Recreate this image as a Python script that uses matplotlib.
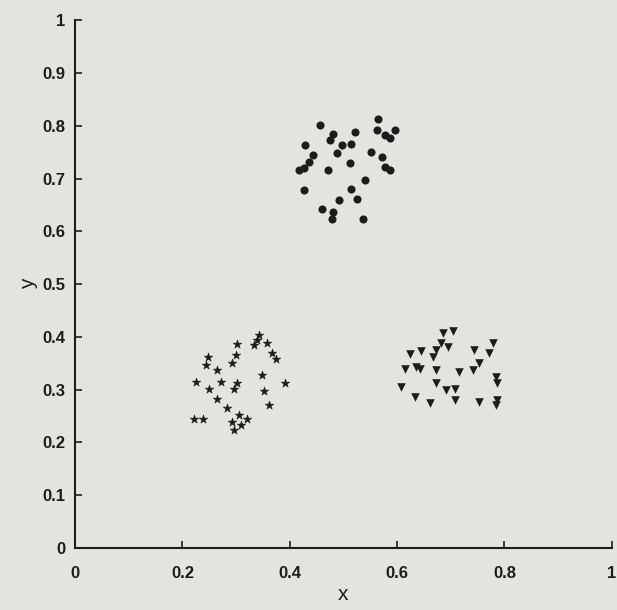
import numpy as np
import matplotlib
matplotlib.use('Agg')
import matplotlib.pyplot as plt

# ===== data =====
# upper cluster (dots)
circ_x = [0.457, 0.481, 0.475, 0.522, 0.515, 0.565, 0.562, 0.577, 0.596, 0.586,
          0.429, 0.497, 0.488, 0.552, 0.444, 0.435, 0.417, 0.426, 0.512, 0.472,
          0.571, 0.577, 0.586, 0.540, 0.426, 0.515, 0.525, 0.491, 0.460, 0.481,
          0.478, 0.537]
circ_y = [0.801, 0.785, 0.773, 0.788, 0.766, 0.814, 0.792, 0.782, 0.792, 0.777,
          0.763, 0.763, 0.748, 0.751, 0.744, 0.732, 0.716, 0.720, 0.729, 0.716,
          0.742, 0.722, 0.716, 0.697, 0.679, 0.681, 0.662, 0.659, 0.643, 0.637,
          0.624, 0.624]

# lower-left cluster (stars)
star_x = [0.343, 0.339, 0.333, 0.358, 0.302, 0.367, 0.374, 0.299, 0.293, 0.247,
          0.244, 0.265, 0.349, 0.225, 0.272, 0.302, 0.296, 0.392, 0.250, 0.352,
          0.265, 0.284, 0.361, 0.222, 0.238, 0.306, 0.293, 0.309, 0.321, 0.296]
star_y = [0.403, 0.394, 0.384, 0.389, 0.386, 0.369, 0.359, 0.366, 0.350, 0.362,
          0.347, 0.338, 0.328, 0.315, 0.315, 0.312, 0.302, 0.313, 0.301, 0.298,
          0.282, 0.266, 0.271, 0.244, 0.244, 0.252, 0.239, 0.233, 0.244, 0.223]

# lower-right cluster (triangles)
tri_x = [0.685, 0.704, 0.682, 0.694, 0.673, 0.778, 0.772, 0.624, 0.645, 0.667,
         0.744, 0.614, 0.636, 0.642, 0.673, 0.753, 0.741, 0.716, 0.784, 0.787,
         0.608, 0.673, 0.691, 0.707, 0.633, 0.707, 0.661, 0.753, 0.787, 0.784]
tri_y = [0.407, 0.411, 0.388, 0.381, 0.375, 0.388, 0.369, 0.367, 0.373, 0.362,
         0.375, 0.340, 0.343, 0.340, 0.337, 0.350, 0.337, 0.333, 0.324, 0.312,
         0.306, 0.312, 0.299, 0.302, 0.287, 0.280, 0.274, 0.276, 0.280, 0.271]

x_ticks = [0, 0.2, 0.4, 0.6, 0.8, 1]
x_tick_labels = ['0', '0.2', '0.4', '0.6', '0.8', '1']
y_ticks = [0, 0.1, 0.2, 0.3, 0.4, 0.5, 0.6, 0.7, 0.8, 0.9, 1]
y_tick_labels = ['0', '0.1', '0.2', '0.3', '0.4', '0.5', '0.6', '0.7', '0.8', '0.9', '1']

BG = '#e3e3df'
INK = '#1c1c1c'

plt.rcParams['font.family'] = ['Liberation Sans', 'DejaVu Sans']

fig = plt.figure(figsize=(6.17, 6.10), dpi=100, facecolor=BG)
ax = fig.add_axes([0.1216, 0.1016, 0.870, 0.865], facecolor=BG)

ax.scatter(circ_x, circ_y, marker='o', s=34, color=INK, linewidths=0)
ax.scatter(star_x, star_y, marker='*', s=42, color=INK, linewidths=0.4, edgecolors=INK)
ax.scatter(tri_x, tri_y, marker='v', s=38, color=INK, linewidths=0)

ax.set_xlim(0, 1)
ax.set_ylim(0, 1)
ax.set_xticks(x_ticks)
ax.set_xticklabels(x_tick_labels)
ax.set_yticks(y_ticks)
ax.set_yticklabels(y_tick_labels)
ax.tick_params(direction='in', length=5, width=1.2, colors=INK, labelsize=12)
ax.tick_params(axis='x', pad=13)
ax.tick_params(axis='y', pad=7)
for lbl in ax.get_xticklabels() + ax.get_yticklabels():
    lbl.set_fontweight('bold')

for side in ['top', 'right']:
    ax.spines[side].set_visible(False)
for side in ['left', 'bottom']:
    ax.spines[side].set_linewidth(1.5)
    ax.spines[side].set_color(INK)

ax.set_xlabel('x', fontsize=15, color=INK, labelpad=3)
ax.set_ylabel('y', fontsize=15, color=INK, labelpad=3)

fig.savefig('out.png', dpi=100, facecolor=BG)
